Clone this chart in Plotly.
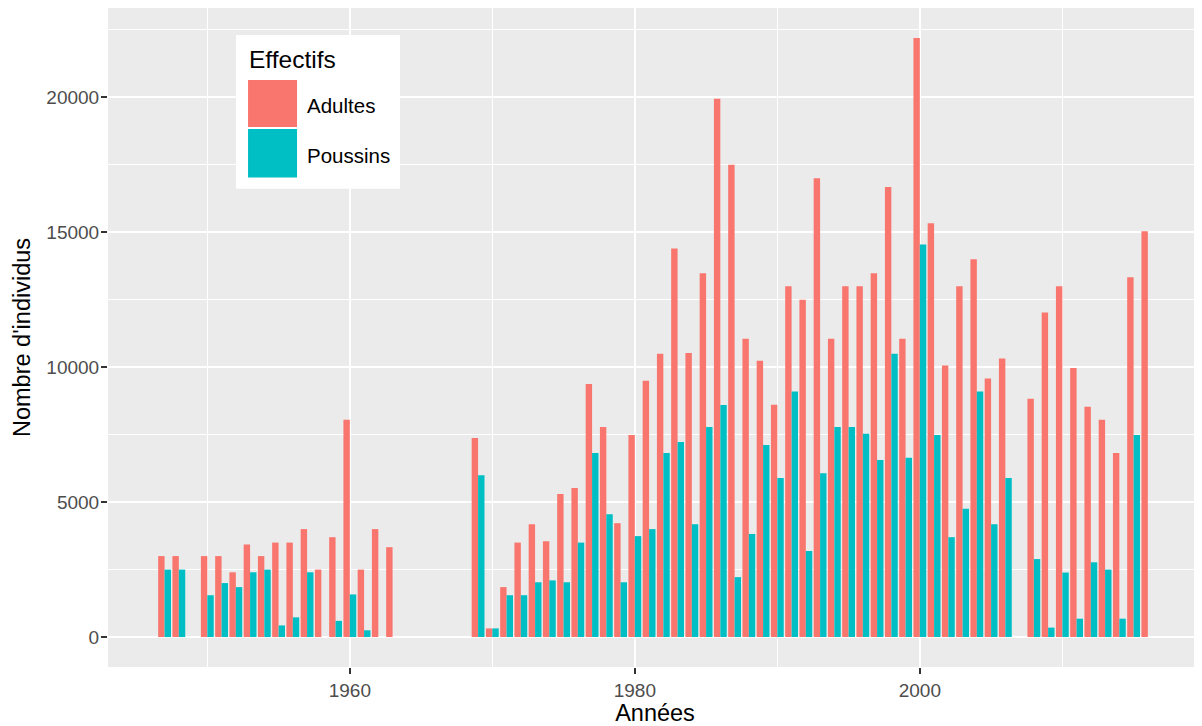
import plotly.graph_objects as go

years = [1947, 1948, 1950, 1951, 1952, 1953, 1954, 1955, 1956, 1957, 1958, 1959,
         1960, 1961, 1962, 1963,
         1969, 1970, 1971, 1972, 1973, 1974, 1975, 1976, 1977, 1978, 1979, 1980,
         1981, 1982, 1983, 1984, 1985, 1986, 1987, 1988, 1989, 1990, 1991, 1992,
         1993, 1994, 1995, 1996, 1997, 1998, 1999, 2000, 2001, 2002, 2003, 2004,
         2005, 2006,
         2008, 2009, 2010, 2011, 2012, 2013, 2014, 2015, 2016]

adultes = [3000, 3000, 3000, 3000, 2400, 3430, 3000, 3500, 3500, 4000, 2500, 3700,
           8050, 2500, 4000, 3330,
           7380, 320, 1850, 3500, 4180, 3550, 5300, 5520, 9380, 7780, 4220, 7490,
           9500, 10500, 14400, 10530, 13480, 19950, 17500, 11050, 10240, 8610, 13000, 12500,
           17000, 11050, 13000, 13000, 13480, 16680, 11050, 22200, 15330, 10060, 13000, 14000,
           9580, 10320,
           8830, 12030, 13000, 9970, 8530, 8050, 6820, 13330, 15040]

poussins = [2500, 2500, 1550, 2000, 1850, 2400, 2500, 430, 730, 2400, 0, 600,
            1580, 250, 0, 0,
            6000, 320, 1550, 1550, 2030, 2100, 2030, 3500, 6820, 4550, 2030, 3740,
            4000, 6820, 7230, 4180, 7780, 8600, 2220, 3820, 7120, 5890, 9100, 3190,
            6070, 7780, 7780, 7530, 6560, 10500, 6640, 14550, 7490, 3700, 4750, 9100,
            4180, 5890,
            2890, 350, 2390, 680, 2770, 2500, 680, 7490, 0]

series_names = ["Adultes", "Poussins"]
legend_title = "Effectifs"
x_title = "Années"
y_title = "Nombre d'individus"

RED = "#F8766D"
TEAL = "#00BFC4"
FONT = "Liberation Sans"

fig = go.Figure()
fig.add_trace(go.Bar(x=years, y=adultes, name=series_names[0],
                     marker=dict(color=RED, line=dict(width=0))))
fig.add_trace(go.Bar(x=years, y=poussins, name=series_names[1],
                     marker=dict(color=TEAL, line=dict(width=0))))

ymax = max(adultes)
yr = [-0.05 * ymax, 1.05 * ymax]

# the page body has an 8px margin, so the figure is sized/placed to compensate
fig.update_layout(
    width=1194, height=718,
    margin=dict(l=100, r=0, t=0, b=58.5, pad=0),
    paper_bgcolor="white",
    plot_bgcolor="#EBEBEB",
    barmode="group", bargap=0.1, bargroupgap=0,
    showlegend=False,
    font=dict(family=FONT, color="#4D4D4D", size=19),
)

fig.update_xaxes(
    range=[1943.03, 2019.80],
    tick0=1960, dtick=20,
    showgrid=True, gridcolor="white", gridwidth=2.1,
    minor=dict(tick0=1950, dtick=10, showgrid=True, gridcolor="white", gridwidth=1.1),
    zeroline=False, showline=False,
    ticks="outside", ticklen=6, tickwidth=2, tickcolor="#333333",
    tickfont=dict(family=FONT, size=19, color="#4D4D4D"),
    title=dict(text=x_title, font=dict(family=FONT, size=23.5, color="black"), standoff=7),
)
fig.update_yaxes(
    range=yr,
    tick0=0, dtick=5000, tickformat="d",
    showgrid=True, gridcolor="white", gridwidth=2.1,
    minor=dict(tick0=0, dtick=2500, showgrid=True, gridcolor="white", gridwidth=1.1),
    zeroline=False, showline=False,
    ticks="outside", ticklen=6, tickwidth=2, tickcolor="#333333",
    ticklabelstandoff=-2,
    tickfont=dict(family=FONT, size=19, color="#4D4D4D"),
    title=dict(text=y_title, font=dict(family=FONT, size=23.5, color="black"), standoff=9),
)

# Legend drawn inside the panel (ggplot style)
shapes = [
    dict(type="rect", xref="paper", yref="paper", x0=0.1170, x1=0.2669, y0=0.7256, y1=0.9591,
         fillcolor="white", line=dict(width=0), layer="above"),
    dict(type="rect", xref="paper", yref="paper", x0=0.1280, x1=0.1728, y0=0.8196, y1=0.8908,
         fillcolor=RED, line=dict(width=0), layer="above"),
    dict(type="rect", xref="paper", yref="paper", x0=0.1280, x1=0.1728, y0=0.7427, y1=0.8165,
         fillcolor=TEAL, line=dict(width=0), layer="above"),
]
annotations = [
    dict(text=legend_title, xref="paper", yref="paper", x=0.1272, y=0.9219,
         xanchor="left", yanchor="middle", showarrow=False,
         font=dict(family=FONT, size=24.5, color="black")),
    dict(text=series_names[0], xref="paper", yref="paper", x=0.1800, y=0.8514,
         xanchor="left", yanchor="middle", showarrow=False,
         font=dict(family=FONT, size=20.5, color="black")),
    dict(text=series_names[1], xref="paper", yref="paper", x=0.1800, y=0.7756,
         xanchor="left", yanchor="middle", showarrow=False,
         font=dict(family=FONT, size=20.5, color="black")),
]
fig.update_layout(shapes=shapes, annotations=annotations)

fig.write_html("out.html")
